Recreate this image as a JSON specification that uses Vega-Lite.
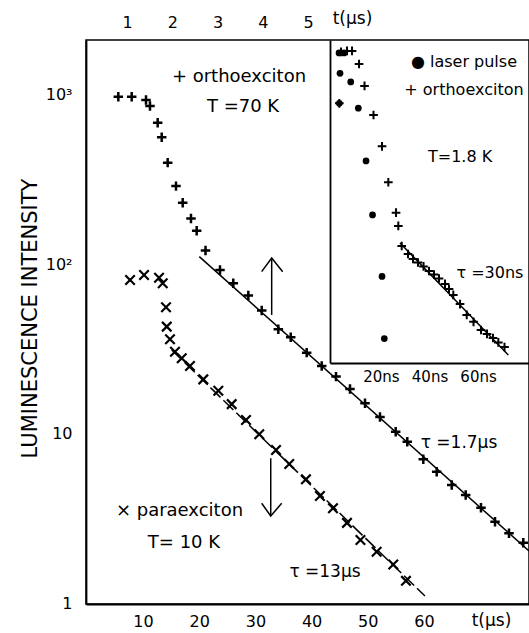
{
  "$schema": "https://vega.github.io/schema/vega-lite/v6.json",
  "width": 443,
  "height": 564,
  "autosize": "none",
  "padding": {"left": 86, "top": 40, "right": 0, "bottom": 29},
  "background": "white",
  "config": {
    "view": {"stroke": "black", "strokeWidth": 1.5},
    "font": "DejaVu Sans",
    "axis": {"domainColor": "black", "domainWidth": 1.8, "ticks": false, "labelColor": "black", "labelFont": "DejaVu Sans", "labelFontSize": 16, "grid": false, "titleFont": "DejaVu Sans", "titleColor": "black", "titleFontWeight": "normal", "labelOverlap": false, "labelFlush": false},
    "text": {"font": "DejaVu Sans", "fontSize": 17, "color": "black"}
  },
  "datasets": {
    "para": [
      {"t": 7.69, "I": 81.0}, {"t": 10.18, "I": 86.7}, {"t": 12.85, "I": 83.6}, {"t": 13.51, "I": 77.5},
      {"t": 14.09, "I": 55.9}, {"t": 14.22, "I": 43.0}, {"t": 14.80, "I": 36.2}, {"t": 15.69, "I": 30.6},
      {"t": 16.89, "I": 28.0}, {"t": 18.36, "I": 25.2}, {"t": 20.73, "I": 21.0}, {"t": 23.40, "I": 18.0},
      {"t": 25.78, "I": 15.0}, {"t": 28.33, "I": 12.1}, {"t": 30.69, "I": 9.96}, {"t": 33.67, "I": 8.05},
      {"t": 36.03, "I": 6.65}, {"t": 39.00, "I": 5.40}, {"t": 41.49, "I": 4.31}, {"t": 43.81, "I": 3.65},
      {"t": 46.30, "I": 2.99}, {"t": 48.70, "I": 2.37}, {"t": 51.58, "I": 2.02}, {"t": 54.54, "I": 1.70},
      {"t": 56.80, "I": 1.36}
    ],
    "paraFit": [{"t": 15.11, "I": 31.3}, {"t": 60.18, "I": 1.107}],
    "arrows": [
      {"seg": "u1", "k": 0, "t": 32.90, "I": 50.4}, {"seg": "u1", "k": 1, "t": 32.90, "I": 109.2},
      {"seg": "u2", "k": 0, "t": 31.12, "I": 90.7}, {"seg": "u2", "k": 1, "t": 32.90, "I": 109.2}, {"seg": "u2", "k": 2, "t": 34.86, "I": 90.7},
      {"seg": "d1", "k": 0, "t": 32.73, "I": 7.19}, {"seg": "d1", "k": 1, "t": 32.73, "I": 3.28},
      {"seg": "d2", "k": 0, "t": 31.12, "I": 3.90}, {"seg": "d2", "k": 1, "t": 32.73, "I": 3.28}, {"seg": "d2", "k": 2, "t": 34.68, "I": 3.90}
    ],
    "legendText": [
      {"t": 27.08, "I": 1282, "label": "+ orthoexciton"},
      {"t": 27.80, "I": 853, "label": "T =70 K"},
      {"t": 16.49, "I": 3.51, "label": "× paraexciton"},
      {"t": 17.29, "I": 2.265, "label": "T= 10 K"}
    ],
    "tauText": [
      {"t": 42.39, "I": 1.540, "label": "τ =13µs"},
      {"t": 66.24, "I": 8.81, "label": "τ =1.7µs"}
    ],
    "ortho70": [
      {"t": 0.808, "I": 977}, {"t": 1.104, "I": 977}, {"t": 1.420, "I": 934}, {"t": 1.508, "I": 861},
      {"t": 1.678, "I": 687}, {"t": 1.767, "I": 563}, {"t": 1.899, "I": 399}, {"t": 2.083, "I": 290},
      {"t": 2.231, "I": 231}, {"t": 2.414, "I": 187}, {"t": 2.540, "I": 158}, {"t": 2.735, "I": 121},
      {"t": 3.055, "I": 92.8}, {"t": 3.349, "I": 77.5}, {"t": 3.681, "I": 65.6}, {"t": 3.977, "I": 53.5},
      {"t": 4.344, "I": 41.5}, {"t": 4.618, "I": 37.2}, {"t": 4.971, "I": 30.2}, {"t": 5.303, "I": 25.2},
      {"t": 5.619, "I": 21.8}, {"t": 5.928, "I": 18.4}, {"t": 6.260, "I": 15.2}, {"t": 6.591, "I": 12.6},
      {"t": 6.938, "I": 10.3}, {"t": 7.194, "I": 9.01}, {"t": 7.548, "I": 7.09}, {"t": 7.844, "I": 5.99},
      {"t": 8.176, "I": 5.00}, {"t": 8.485, "I": 4.37}, {"t": 8.823, "I": 3.67}, {"t": 9.133, "I": 3.04},
      {"t": 9.442, "I": 2.60}, {"t": 9.758, "I": 2.28}
    ],
    "ortho70Fit": [{"t": 2.598, "I": 111.2}, {"t": 9.884, "I": 2.04}],
    "laser": [
      {"ns": 2.72, "I": 65.0}, {"ns": 4.78, "I": 65.0}, {"ns": 3.13, "I": 49.4}, {"ns": 7.54, "I": 44.0},
      {"ns": 10.67, "I": 30.9}, {"ns": 13.84, "I": 15.2}, {"ns": 16.52, "I": 7.34}, {"ns": 20.44, "I": 3.21},
      {"ns": 21.38, "I": 1.39}, {"ns": 2.84, "I": 33.0}
    ],
    "ortho18": [
      {"ns": 3.54, "I": 65.9}, {"ns": 6.02, "I": 66.8}, {"ns": 8.08, "I": 66.8}, {"ns": 10.96, "I": 56.0},
      {"ns": 13.23, "I": 41.7}, {"ns": 16.93, "I": 28.2}, {"ns": 20.44, "I": 18.5}, {"ns": 23.03, "I": 11.4},
      {"ns": 26.21, "I": 7.57}, {"ns": 27.15, "I": 6.33}, {"ns": 2.84, "I": 33.0}, {"ns": 28.55, "I": 4.83},
      {"ns": 31.15, "I": 4.34}, {"ns": 33.21, "I": 4.06}, {"ns": 35.27, "I": 3.87}, {"ns": 37.54, "I": 3.67},
      {"ns": 39.80, "I": 3.45}, {"ns": 41.86, "I": 3.29}, {"ns": 43.92, "I": 3.12}, {"ns": 46.40, "I": 2.90},
      {"ns": 48.04, "I": 2.71}, {"ns": 49.81, "I": 2.50}, {"ns": 52.58, "I": 2.21}, {"ns": 55.34, "I": 1.91},
      {"ns": 58.14, "I": 1.74}, {"ns": 61.23, "I": 1.56}, {"ns": 63.70, "I": 1.48}, {"ns": 66.17, "I": 1.40},
      {"ns": 68.36, "I": 1.32}, {"ns": 70.91, "I": 1.24}
    ],
    "ortho18Fit": [{"ns": 27.85, "I": 5.03}, {"ns": 72.48, "I": 1.114}],
    "insetText": [
      {"ns": 54.2, "I": 57.6, "label": "●  laser  pulse"},
      {"ns": 54.2, "I": 39.5, "label": "+  orthoexciton"},
      {"ns": 52.6, "I": 16.0, "label": "T=1.8 K"},
      {"ns": 64.9, "I": 3.36, "label": "τ =30ns"}
    ]
  },
  "layer": [
    {
      "layer": [
        {
          "data": {"name": "para"},
          "mark": {"type": "point", "shape": "M-1,-1L1,1M1,-1L-1,1", "filled": false, "color": "black", "strokeWidth": 2.2, "size": 90, "opacity": 1},
          "encoding": {
            "x": {"field": "t", "type": "quantitative",
              "scale": {"domain": [-0.15, 78.7], "nice": false, "zero": false},
              "axis": {"orient": "bottom", "values": [10, 20, 30, 40, 50, 60], "domain": true, "labelPadding": 9,
                "title": "t(µs)", "titleX": 405, "titleY": 16, "titleAlign": "center", "titleBaseline": "middle", "titleFontSize": 17}},
            "y": {"field": "I", "type": "quantitative",
              "scale": {"type": "log", "domain": [0.993, 2111], "nice": false},
              "axis": {"orient": "left", "values": [1, 10, 100, 1000], "domain": true,
                "labelExpr": "datum.value == 1000 ? '10³' : datum.value == 100 ? '10²' : datum.value == 10 ? '10' : '1'",
                "labelPadding": 14,
                "title": "LUMINESCENCE    INTENSITY", "titleX": -56, "titleY": 278, "titleAlign": "center", "titleBaseline": "middle", "titleAngle": -90, "titleFontSize": 21}}
          }
        },
        {
          "data": {"name": "paraFit"},
          "mark": {"type": "line", "color": "black", "strokeWidth": 1.5, "strokeDash": [14, 4]},
          "encoding": {"x": {"field": "t", "type": "quantitative"}, "y": {"field": "I", "type": "quantitative"}}
        },
        {
          "data": {"name": "arrows"},
          "mark": {"type": "line", "color": "black", "strokeWidth": 1.5},
          "encoding": {"x": {"field": "t", "type": "quantitative"}, "y": {"field": "I", "type": "quantitative"}, "detail": {"field": "seg"}, "order": {"field": "k"}}
        },
        {
          "data": {"name": "legendText"},
          "mark": {"type": "text", "align": "center", "baseline": "middle", "fontSize": 18},
          "encoding": {"x": {"field": "t", "type": "quantitative"}, "y": {"field": "I", "type": "quantitative"}, "text": {"field": "label"}}
        },
        {
          "data": {"name": "tauText"},
          "mark": {"type": "text", "align": "center", "baseline": "middle", "fontSize": 17},
          "encoding": {"x": {"field": "t", "type": "quantitative"}, "y": {"field": "I", "type": "quantitative"}, "text": {"field": "label"}}
        }
      ]
    },
    {
      "layer": [
        {
          "data": {"name": "ortho70"},
          "mark": {"type": "point", "shape": "M-1,0L1,0M0,-1L0,1", "filled": false, "color": "black", "strokeWidth": 2.5, "size": 90, "opacity": 1},
          "encoding": {
            "x": {"field": "t", "type": "quantitative",
              "scale": {"domain": [0.094, 9.884], "nice": false, "zero": false},
              "axis": {"orient": "top", "values": [1, 2, 3, 4, 5], "domain": false, "labelPadding": 10,
                "title": "t(µs)", "titleX": 266, "titleY": -22, "titleAlign": "center", "titleBaseline": "middle", "titleAngle": 0, "titleFontSize": 17}},
            "y": {"field": "I", "type": "quantitative", "scale": {"type": "log", "domain": [0.993, 2111], "nice": false}, "axis": null}
          }
        },
        {
          "data": {"name": "ortho70Fit"},
          "mark": {"type": "line", "color": "black", "strokeWidth": 1.5},
          "encoding": {"x": {"field": "t", "type": "quantitative"}, "y": {"field": "I", "type": "quantitative"}}
        }
      ]
    },
    {
      "layer": [
        {
          "data": {"name": "laser"},
          "mark": {"type": "circle", "color": "black", "size": 45, "opacity": 1},
          "encoding": {
            "x": {"field": "ns", "type": "quantitative",
              "scale": {"domain": [-1, 81], "range": [244, 443], "nice": false, "zero": false},
              "axis": {"orient": "bottom", "offset": -241, "values": [20, 40, 60], "labelExpr": "datum.value + 'ns'", "domain": true,
                "labelPadding": 6, "labelFontSize": 15, "title": null}},
            "y": {"field": "I", "type": "quantitative",
              "scale": {"type": "log", "domain": [1, 77.4], "range": [323, 0], "nice": false},
              "axis": {"orient": "left", "offset": -244, "labels": false, "domain": true, "title": null}}
          }
        },
        {
          "data": {"name": "ortho18"},
          "mark": {"type": "point", "shape": "M-1,0L1,0M0,-1L0,1", "filled": false, "color": "black", "strokeWidth": 2, "size": 75, "opacity": 1},
          "encoding": {"x": {"field": "ns", "type": "quantitative"}, "y": {"field": "I", "type": "quantitative"}}
        },
        {
          "data": {"name": "ortho18Fit"},
          "mark": {"type": "line", "color": "black", "strokeWidth": 1.5},
          "encoding": {"x": {"field": "ns", "type": "quantitative"}, "y": {"field": "I", "type": "quantitative"}}
        },
        {
          "data": {"name": "insetText"},
          "mark": {"type": "text", "align": "center", "baseline": "middle", "fontSize": 16},
          "encoding": {"x": {"field": "ns", "type": "quantitative"}, "y": {"field": "I", "type": "quantitative"}, "text": {"field": "label"}}
        }
      ]
    }
  ],
  "resolve": {"scale": {"x": "independent", "y": "independent"}, "axis": {"x": "independent", "y": "independent"}}
}
